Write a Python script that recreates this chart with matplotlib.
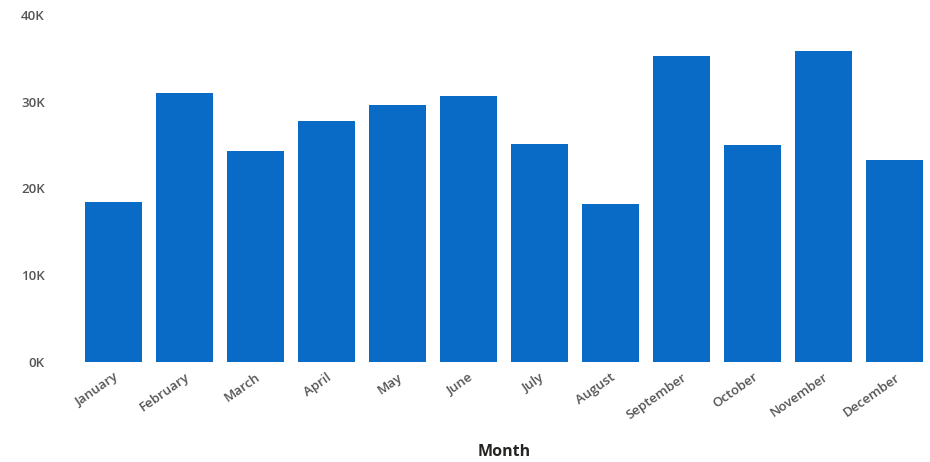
import matplotlib
matplotlib.use("Agg")
import matplotlib.pyplot as plt
from matplotlib.ticker import FuncFormatter

months = ["January", "February", "March", "April", "May", "June", "July",
          "August", "September", "October", "November", "December"]
values = [18400, 31000, 24300, 27800, 29600, 30700, 25100,
          18200, 35300, 25000, 35800, 23300]

plt.rcParams["font.family"] = ["Open Sans", "DejaVu Sans"]

fig = plt.figure(figsize=(9.3, 4.62), dpi=100)
ax = fig.add_axes([0.084, 0.216, 0.916, 0.752])

ax.bar(months, values, width=0.8, color="#0A6BC6")
ax.set_xlim(-0.5, len(months) - 0.5)
ax.set_ylim(0, 40000)
ax.set_yticks([0, 10000, 20000, 30000, 40000])
ax.yaxis.set_major_formatter(FuncFormatter(lambda v, p: f"{int(v / 1000)}K"))

for s in ax.spines.values():
    s.set_visible(False)
ax.tick_params(axis="both", length=0, colors="#555555", labelsize=9.5)
ax.tick_params(axis="y", pad=24)
ax.tick_params(axis="x", pad=6)
for lbl in ax.get_xticklabels() + ax.get_yticklabels():
    lbl.set_fontweight("semibold")
plt.setp(ax.get_xticklabels(), rotation=35, ha="right", rotation_mode="anchor")

ax.set_xlabel("Month", fontsize=11.5, fontweight="bold", color="#252423", labelpad=16)

fig.savefig("out.png", dpi=100)
